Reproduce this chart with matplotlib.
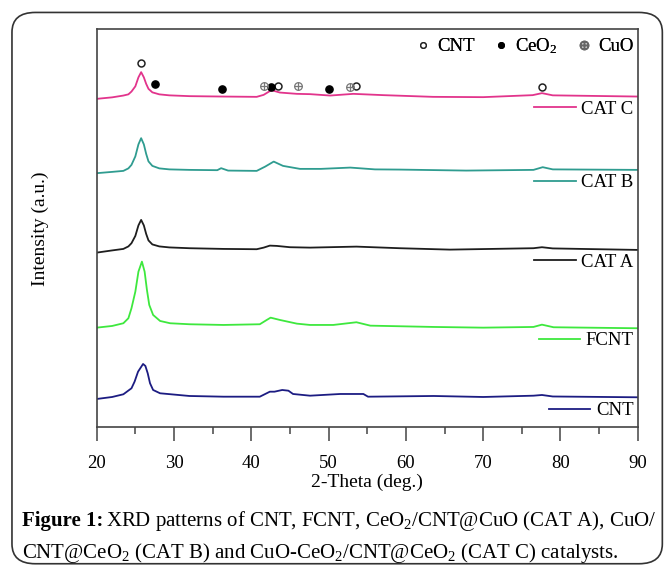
import matplotlib
matplotlib.use("Agg")
import matplotlib.pyplot as plt
from matplotlib.patches import FancyBboxPatch
from matplotlib.lines import Line2D
from matplotlib.ticker import MultipleLocator

plt.rcParams['font.family'] = ['Liberation Serif', 'DejaVu Serif']
plt.rcParams['mathtext.fontset'] = 'custom'
plt.rcParams['mathtext.rm'] = 'Liberation Serif'
plt.rcParams['mathtext.bf'] = 'Liberation Serif:bold'
plt.rcParams['mathtext.it'] = 'Liberation Serif:italic'

# ---------------- data ----------------
cnt_x = [20, 22, 23.45, 24.5, 24.9, 25.35, 26.0, 26.3, 26.6, 26.9, 27.3, 28.2, 32, 36.4, 41.1,
         42.4, 43.0, 44.0, 44.8, 45.4, 47.6, 51.5, 54.5, 55.1, 63.6, 70, 76.5, 77.6, 79, 90]
cnt_y = [28.5, 30.5, 33.2, 39.2, 45.8, 55.8, 63.5, 61.5, 54.2, 44.2, 37.5, 34.2, 31.5, 30.8,
         30.8, 35.8, 35.8, 37.5, 36.8, 33.5, 31.8, 33.5, 33.5, 30.8, 31.5, 30.5, 31.8, 32.5,
         31.0, 30.2]

fcnt_x = [20, 22, 23.45, 24.1, 24.5, 25.0, 25.4, 25.85, 26.2, 26.5, 26.8, 27.3, 28.2, 29.5,
          32, 36.4, 41.1, 42.0, 42.5, 43.7, 45.9, 47.6, 50.6, 53.6, 55.4, 63.6, 70, 76.5,
          77.6, 79.1, 90]
fcnt_y = [99.8, 101.5, 104.2, 109.2, 119.2, 135.8, 155.8, 165.8, 155.8, 137.5, 122.5, 112.5,
          106.5, 104.2, 103.2, 102.5, 103.2, 107.5, 109.8, 107.5, 103.8, 102.5, 102.5, 105.2,
          101.8, 100.5, 99.8, 100.5, 102.8, 100.2, 99.2]

cata_x = [20, 22, 23.45, 24.1, 24.5, 25.0, 25.4, 25.75, 26.1, 26.4, 26.7, 27.2, 28.1, 29.4,
          32, 36.4, 40.7, 41.6, 42.4, 43.3, 45.0, 47.6, 53.6, 59.2, 65.7, 76.5, 77.6, 79, 90]
cata_y = [174.8, 177.0, 178.5, 181.0, 184.2, 191.5, 202.0, 207.5, 202.0, 193.5, 187.0, 183.0,
          181.0, 180.0, 179.2, 178.5, 178.2, 179.8, 181.8, 181.5, 180.2, 179.8, 180.8, 179.2,
          177.8, 179.2, 180.2, 179.0, 177.5]

catb_x = [20, 22, 23.45, 24.1, 24.5, 25.0, 25.4, 25.75, 26.1, 26.4, 26.7, 27.2, 28.1, 29.4,
          32, 35.6, 36.1, 37, 40.7, 41.8, 42.9, 44.1, 46.3, 49, 52.8, 56, 59.2, 67.8, 76.5,
          77.7, 79, 90]
catb_y = [254.2, 255.5, 256.5, 259.0, 262.5, 271.0, 283.0, 289.2, 283.0, 273.5, 266.0, 261.5,
          259.0, 258.0, 257.5, 257.2, 259.2, 256.8, 256.5, 260.8, 265.8, 261.5, 258.5, 258.5,
          259.8, 258.0, 257.8, 256.8, 257.5, 260.2, 258.0, 257.5]

catc_x = [20, 22, 23.45, 24.1, 24.5, 25.0, 25.4, 25.75, 26.1, 26.4, 26.7, 27.2, 28.1, 29.4,
          32, 36.4, 40.7, 41.6, 42.6, 43.7, 45.9, 47.6, 50.2, 53.2, 57.1, 63.5, 70, 76.4,
          77.6, 79, 90]
catc_y = [328.5, 330.0, 331.8, 333.0, 335.8, 341.0, 350.0, 355.2, 350.0, 343.5, 338.5, 335.0,
          333.0, 332.0, 331.2, 330.8, 330.5, 332.5, 337.2, 334.8, 333.5, 333.2, 331.8, 333.5,
          332.2, 330.5, 330.2, 332.2, 334.2, 332.0, 330.8]

series_names = ["CNT", "FCNT", "CAT A", "CAT B", "CAT C"]
series_colors = ["#1c1c82", "#3ee83e", "#1e1e1e", "#2f9c90", "#e2348c"]

# phase markers on CAT C
cnt_mark_x = [25.75, 43.4, 53.6, 77.65]
cnt_mark_y = [364.2, 341.8, 341.5, 340.8]
ceo2_mark_x = [27.55, 36.2, 42.6, 50.1]
ceo2_mark_y = [343.5, 338.2, 340.8, 338.2]
cuo_mark_x = [41.7, 46.0, 52.8]
cuo_mark_y = [341.8, 341.8, 340.8]

x_ticks = [20, 30, 40, 50, 60, 70, 80, 90]

# ---------------- figure ----------------
fig = plt.figure(figsize=(6.65, 5.66), dpi=100)
ax = fig.add_axes([0.1454, 0.2447, 0.8137, 0.7035])

xs = [cnt_x, fcnt_x, cata_x, catb_x, catc_x]
ys = [cnt_y, fcnt_y, cata_y, catb_y, catc_y]
for x, y, c in zip(xs, ys, series_colors):
    ax.plot(x, y, color=c, lw=1.3)

ax.plot(cnt_mark_x, cnt_mark_y, ls='none', marker='o', ms=5, mfc='white', mec='#222', mew=1.1)
ax.plot(ceo2_mark_x, ceo2_mark_y, ls='none', marker='o', ms=5.2, mfc='black', mec='black')
ax.plot(cuo_mark_x, cuo_mark_y, ls='none', marker='o', ms=5.5, mfc='none', mec='#777', mew=0.9)
ax.plot(cuo_mark_x, cuo_mark_y, ls='none', marker='+', ms=5.5, mec='#777', mew=0.9)

ax.set_xlim(20, 90)
ax.set_ylim(0, 398)
ax.set_xticks(x_ticks)
ax.xaxis.set_minor_locator(MultipleLocator(5))
ax.set_yticks([])
ax.tick_params(axis='x', which='major', direction='out', length=10, width=1.1,
               labelsize=13.5, pad=10, color='#444')
ax.tick_params(axis='x', which='minor', direction='out', length=5, width=1.1, color='#444')
for s in ax.spines.values():
    s.set_color('#444')
    s.set_linewidth(1.2)

ax.set_xlabel("2-Theta (deg.)", fontsize=14, labelpad=1)
ax.set_ylabel("Intensity (a.u.)", fontsize=14, labelpad=34)

# per-curve labels on the right
label_y = [0.042, 0.218, 0.415, 0.615, 0.800]
for name, c, yy in zip(series_names, series_colors, label_y):
    lg = ax.legend(handles=[Line2D([], [], color=c, lw=1.3)], labels=[name],
                   loc='center right', bbox_to_anchor=(0.992, yy), frameon=False,
                   fontsize=13.5, handlelength=2.2, handletextpad=0.3, borderpad=0,
                   borderaxespad=0)
    ax.add_artist(lg)

# phase legend at top
h_cnt = Line2D([], [], ls='none', marker='o', ms=4, mfc='white', mec='#222', mew=1.0)
h_ceo = Line2D([], [], ls='none', marker='o', ms=4, mfc='black', mec='black')
h_cuo = Line2D([], [], ls='none', marker='$\\oplus$', ms=6, mec='#666', color='#666')
top = ax.legend(handles=[h_cnt, h_ceo, h_cuo], labels=["CNT", "CeO$_2$", "CuO"],
                loc='center right', bbox_to_anchor=(0.992, 0.958), ncol=3, frameon=False,
                fontsize=13.5, handlelength=0.8, handletextpad=0.35, columnspacing=1.0,
                borderpad=0, borderaxespad=0)
ax.add_artist(top)

# caption
cap_size = 15
renderer = fig.canvas.get_renderer()
b1 = fig.text(0.033, 0.070, "Figure 1:", fontsize=cap_size, fontweight='bold',
              va='baseline', ha='left')
w = b1.get_window_extent(renderer).width / fig.bbox.width
fig.text(0.033 + w + 0.004, 0.070,
         "XRD patterns of CNT, FCNT, CeO$_2$/CNT@CuO (CAT A), CuO/",
         fontsize=cap_size, va='baseline', ha='left')
fig.text(0.033, 0.014, "CNT@CeO$_2$ (CAT B) and CuO-CeO$_2$/CNT@CeO$_2$ (CAT C) catalysts.",
         fontsize=cap_size, va='baseline', ha='left')

# rounded frame
frame = FancyBboxPatch((0.018, 0.004), 0.978, 0.974, boxstyle="round,pad=0,rounding_size=0.035",
                       transform=fig.transFigure, fill=False, ec='#333', lw=1.2)
fig.patches.append(frame)

fig.savefig("out.png", dpi=100)
